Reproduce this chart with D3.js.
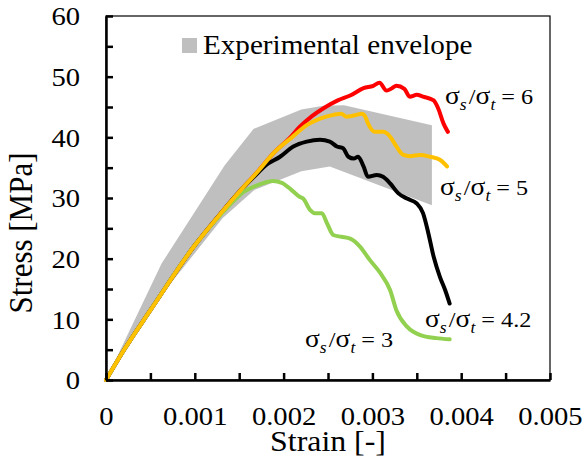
<!DOCTYPE html>
<html><head><meta charset="utf-8">
<script src="https://cdn.jsdelivr.net/npm/d3@7"></script>
<style>
html,body{margin:0;padding:0;background:#fff;}
</style></head>
<body><svg id="c" width="585" height="467"></svg>
<script>
// ---------- data ----------
const xTickValues = [0,0.001,0.002,0.003,0.004,0.005];
const xTickLabels = ["0","0.001","0.002","0.003","0.004","0.005"];
const yTickValues = [0,10,20,30,40,50,60];
const yTickLabels = ["0","10","20","30","40","50","60"];

const envStrain = [0,0.000626,0.001337,0.001663,0.0022,0.00245,0.00268,0.00367,0.00367,0.00252,0.0022,0.00196,0.00167,0.001315,0.00064,0];
const envStress = [0,19.2,35.4,41.4,44.6,45.2,45.3,42.0,28.8,35.2,34.4,33.0,31.3,26.7,14.3,0];

const redStrain = [0,0.0002,0.0005,0.001,0.0013,0.0015,0.0017,0.0019,0.00207,0.00218,0.00232,0.00245,0.00261,0.00275,0.0029,0.00301,0.00308,0.00316,0.00322,0.00327,0.00336,0.00342,0.0035,0.00357,0.00369,0.00374,0.0038,0.00385];
const redStress = [0,4.9,11.5,22.2,27.6,31.0,34.2,37.6,39.9,41.7,43.5,44.8,46.1,46.9,48.1,48.5,49.0,47.7,48.1,48.5,48.0,46.7,47.0,46.7,46.1,44.8,42.3,40.9];

const yellowStrain = [0,0.0002,0.0005,0.001,0.0013,0.0015,0.0017,0.0019,0.00211,0.00226,0.00241,0.00256,0.00265,0.00271,0.00276,0.00282,0.00288,0.00292,0.00295,0.00303,0.00312,0.0032,0.00327,0.00335,0.00342,0.00354,0.00365,0.00376,0.00384];
const yellowStress = [0,4.9,11.5,22.2,27.6,31.0,34.2,37.6,40.2,42.0,43.1,43.7,43.9,43.4,43.5,43.7,43.9,43.4,42.3,40.9,40.9,40.1,38.5,37.1,36.9,37.1,36.8,36.3,35.2];

const blackStrain = [0,0.0002,0.0005,0.001,0.0013,0.0015,0.0017,0.0018,0.00196,0.00211,0.00226,0.00241,0.00252,0.0026,0.00267,0.00273,0.00279,0.00284,0.0029,0.00295,0.00305,0.00312,0.0032,0.00329,0.00339,0.0035,0.00357,0.00363,0.00369,0.00376,0.00382,0.00387];
const blackStress = [0,4.9,11.5,22.2,27.6,31.0,34.0,35.4,36.8,38.5,39.3,39.6,39.3,38.5,38.2,36.8,36.5,36.8,35.2,33.5,33.8,33.5,32.4,30.8,29.9,29.1,27.5,24.2,20.3,17.0,14.8,12.6];

const greenStrain = [0,0.0002,0.0005,0.001,0.0013,0.00143,0.00155,0.00167,0.00178,0.00188,0.00198,0.00209,0.00218,0.00222,0.0023,0.00235,0.00243,0.00249,0.00256,0.00265,0.00275,0.00286,0.00297,0.00309,0.0032,0.00327,0.00339,0.00354,0.00372,0.00387];
const greenStress = [0,4.9,11.5,22.2,27.4,29.4,31.0,31.9,32.5,32.8,32.5,31.3,30.2,29.9,28.0,27.5,27.5,25.8,23.9,23.6,23.3,22.0,19.8,17.6,14.8,11.5,8.8,7.4,6.9,6.7];

const seriesNames = ["6","4.2","3","5"];
const seriesColors = ["#FF0000","#000000","#92D050","#FFC000"];

const FONT = "'Liberation Serif', Tinos, 'Times New Roman', serif";
const SX = 1.1; // horizontal text stretch seen in the reference

// ---------- chart ----------
const svg = d3.select("#c");
const x = d3.scaleLinear().domain([0,0.005]).range([106,550]);
const y = d3.scaleLinear().domain([0,60]).range([380,16]);

// envelope
const envPts = envStrain.map((s,i)=>[s,envStress[i]]);
svg.append("path")
  .attr("d", d3.line().x(d=>x(d[0])).y(d=>y(d[1]))(envPts)+"Z")
  .attr("fill","#BFBFBF").attr("stroke","none");

// frame (top/right)
svg.append("rect").attr("x",x(0)).attr("y",y(60)).attr("width",x(0.005)-x(0)).attr("height",y(0)-y(60))
  .attr("fill","none").attr("stroke","#000").attr("stroke-width",1.2);

// curves
const lineGen = d3.line().x(d=>x(d[0])).y(d=>y(d[1])).curve(d3.curveMonotoneX);
const allSeries = [
  redStrain.map((s,i)=>[s,redStress[i]]),
  blackStrain.map((s,i)=>[s,blackStress[i]]),
  greenStrain.map((s,i)=>[s,greenStress[i]]),
  yellowStrain.map((s,i)=>[s,yellowStress[i]])
];
allSeries.forEach((pts,i)=>{
  svg.append("path").attr("d",lineGen(pts)).attr("fill","none")
    .attr("stroke",seriesColors[i]).attr("stroke-width",4)
    .attr("stroke-linejoin","round").attr("stroke-linecap","round");
});

// axes
const yAxis = d3.axisLeft(y).tickValues(d3.range(0,61,5)).tickSizeInner(-7).tickSizeOuter(0).tickPadding(23.5)
  .tickFormat(d => { const k = yTickValues.indexOf(d); return k>=0 ? yTickLabels[k] : ""; });
const gy = svg.append("g").attr("transform",`translate(${x(0)},0)`).call(yAxis);
const xAxis = d3.axisBottom(x).tickValues(d3.range(0,11).map(i=>i*0.0005)).tickSizeInner(-7).tickSizeOuter(0).tickPadding(26.5)
  .tickFormat(d => { const k = xTickValues.findIndex(v=>Math.abs(v-d)<1e-9); return k>=0 ? xTickLabels[k] : ""; });
const gx = svg.append("g").attr("transform",`translate(0,${y(0)})`).call(xAxis);
[gx,gy].forEach(g=>{
  g.attr("font-family",FONT).attr("font-size",26);
  g.select(".domain").attr("stroke","#000").attr("stroke-width",2.5);
  g.selectAll(".tick line").attr("stroke","#000").attr("stroke-width",2.5);
  g.selectAll("text").style("font-family",FONT).style("font-size","26px").attr("fill","#000")
    .attr("transform",`scale(${SX},1)`);
});
gy.selectAll("text").attr("dy","0.34em");

// axis titles
svg.append("text").attr("transform",`translate(${(x(0)+x(0.005))/2},451) scale(1.08,1)`).attr("text-anchor","middle")
  .style("font-family",FONT).style("font-size","29.5px").text("Strain [-]");
svg.append("text").attr("transform",`translate(31.5,233) scale(${SX},1) rotate(-90)`).attr("text-anchor","middle")
  .style("font-family",FONT).style("font-size","31px").text("Stress [MPa]");

// legend
svg.append("rect").attr("x",182).attr("y",38).attr("width",15).attr("height",15).attr("fill","#BFBFBF");
svg.append("text").attr("transform",`translate(203,54) scale(${SX},1)`).style("font-family",FONT).style("font-size","26.5px").text("Experimental envelope");

// ratio labels
const labelPos = [[445,104],[425,327],[305,347],[440,195]];
seriesNames.forEach((n,i)=>{
  const t = svg.append("text").attr("transform",`translate(${labelPos[i][0]},${labelPos[i][1]}) scale(${SX},1)`)
    .style("font-family",FONT).style("font-size","22px");
  t.append("tspan").style("font-size","25px").text("σ");
  t.append("tspan").attr("font-style","italic").style("font-size","16px").attr("dy",6).text("s");
  t.append("tspan").attr("dy",-6).attr("dx",2).text("/");
  t.append("tspan").style("font-size","25px").text("σ");
  t.append("tspan").attr("font-style","italic").style("font-size","16px").attr("dy",6).text("t");
  t.append("tspan").attr("dy",-6).text(" = " + n);
});
</script></body></html>
